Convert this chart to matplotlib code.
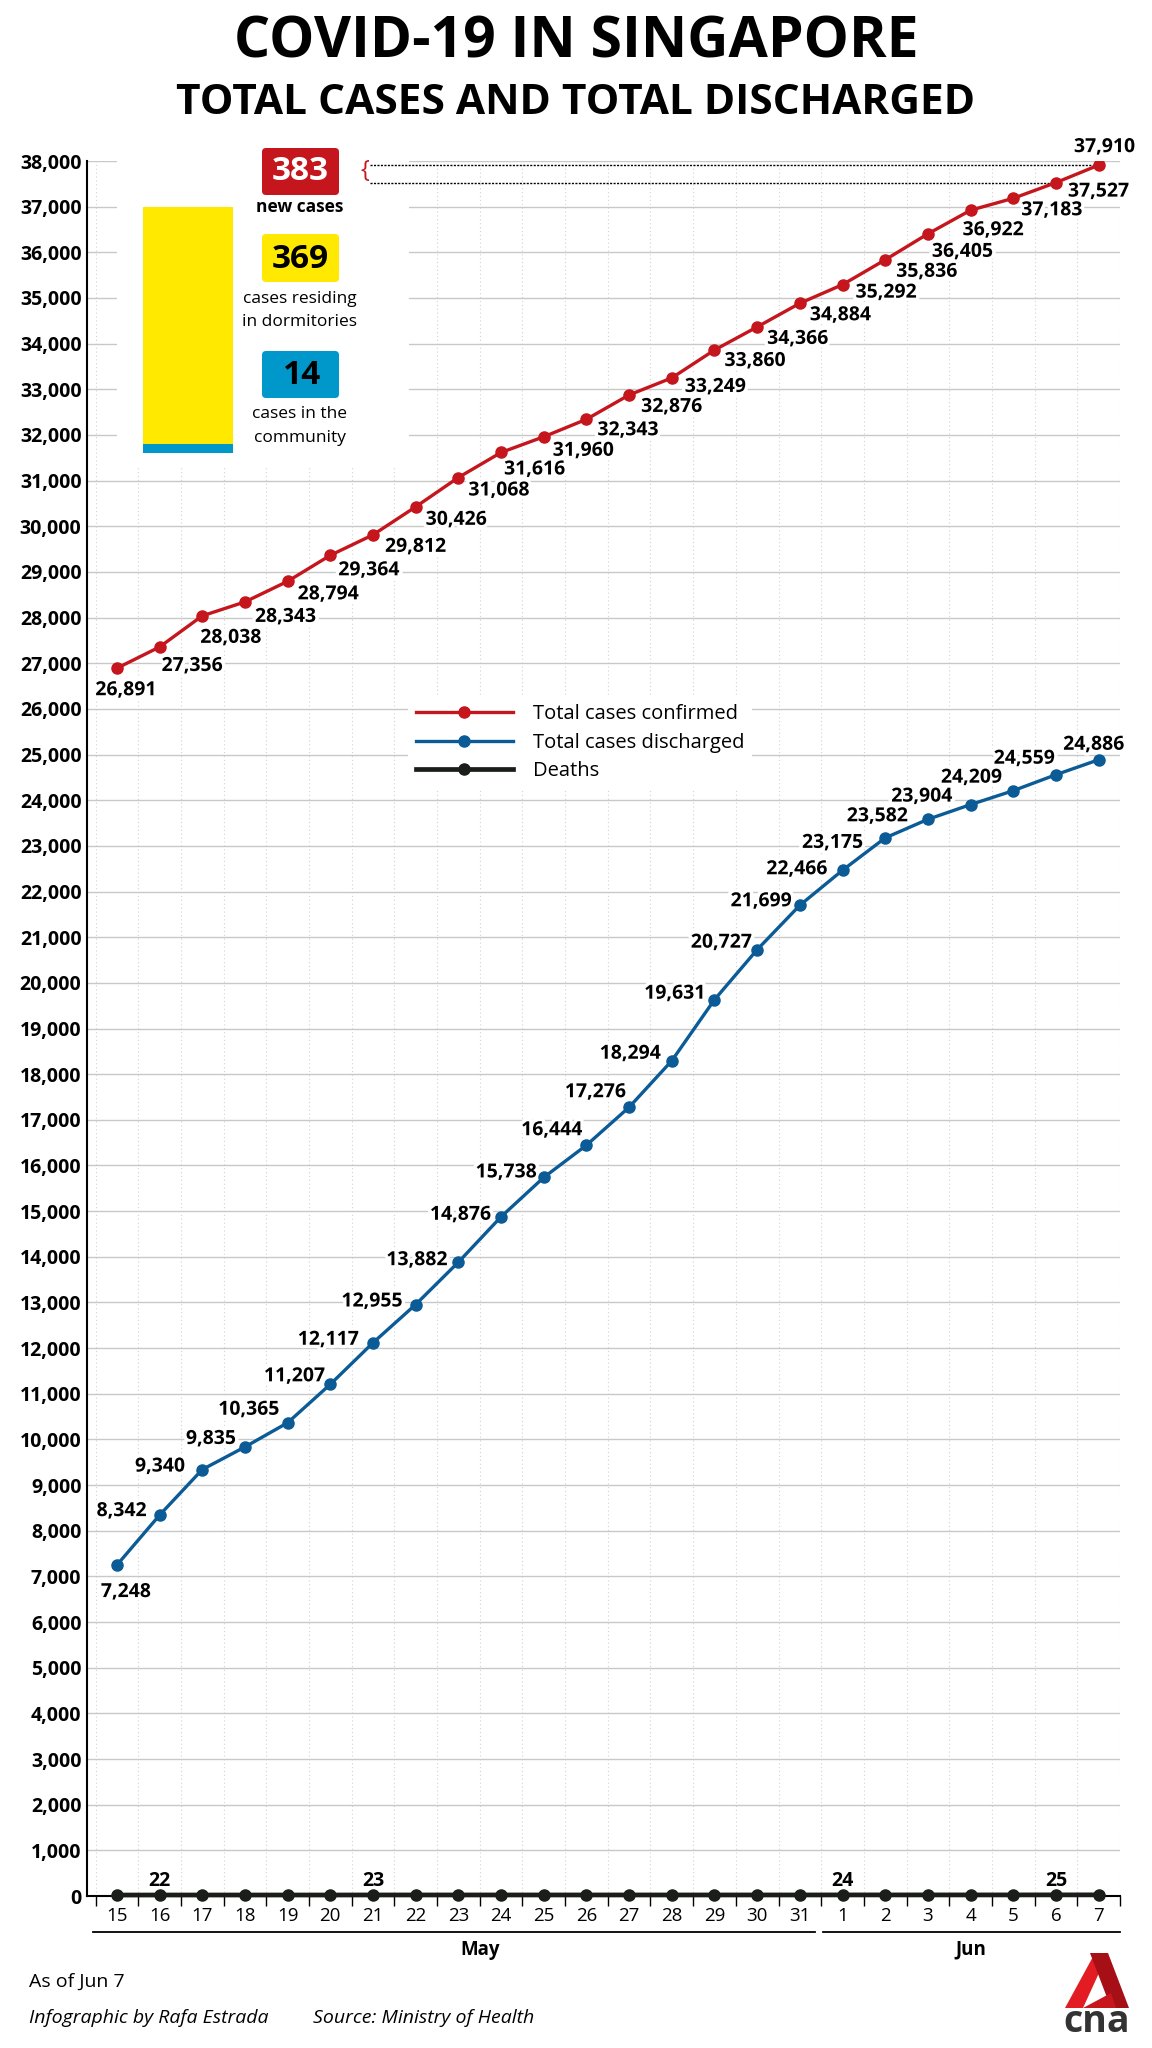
import matplotlib
matplotlib.use('Agg')
import matplotlib.pyplot as plt
import matplotlib.patheffects as pe
from matplotlib.patches import FancyBboxPatch, Rectangle, Polygon
from matplotlib.transforms import IdentityTransform, blended_transform_factory
from matplotlib.ticker import FuncFormatter, FixedLocator

plt.rcParams['font.family'] = ['Open Sans', 'DejaVu Sans']

# data
days = [15, 16, 17, 18, 19, 20, 21, 22, 23, 24, 25, 26, 27, 28, 29, 30, 31,
        1, 2, 3, 4, 5, 6, 7]
months = ['May'] * 17 + ['Jun'] * 7
total_cases = [26891, 27356, 28038, 28343, 28794, 29364, 29812, 30426, 31068,
               31616, 31960, 32343, 32876, 33249, 33860, 34366, 34884, 35292,
               35836, 36405, 36922, 37183, 37527, 37910]
discharged = [7248, 8342, 9340, 9835, 10365, 11207, 12117, 12955, 13882,
              14876, 15738, 16444, 17276, 18294, 19631, 20727, 21699, 22466,
              23175, 23582, 23904, 24209, 24559, 24886]
deaths = [21, 22, 22, 22, 22, 22, 23, 23, 23, 23, 23, 23, 23, 23, 23, 23, 23,
          24, 24, 24, 24, 24, 25, 25]
new_cases = 383
new_dorm = 369
new_community = 14

# label placement (pixels from the point): red = left edge / baseline,
# blue = right edge / baseline; first and last are centred
red_nudge = [(9, 27), (2, 24), (-2, 27), (10, 20), (10, 18), (8, 20), (12, 17),
             (10, 18), (10, 18), (3, 22), (9, 19), (11, 16), (12, 17),
             (13, 14), (10, 16), (10, 17), (10, 17), (13, 13), (11, 17),
             (4, 23), (-8, 25), (8, 17), (12, 14), (6, -13)]
blue_nudge = [(9, 32), (-13, 1), (-17, 2), (-9, -3), (-8, -8), (-5, -3),
              (-14, 2), (-13, 2), (-11, 3), (-10, 3), (-7, 0), (-4, -10),
              (-3, -10), (-11, -2), (-9, -1), (-5, -2), (-8, 1), (-15, 4),
              (-22, 10), (-20, 2), (-18, -3), (-11, -8), (-1, -11), (-5, -10)]

RED = '#c4161c'
BLUE = '#0b5b96'
BLACK = '#1b1d1a'
YELLOW = '#ffe900'
CYAN = '#0098cb'

W, H = 1152, 2048
PT = 72 / 100  # points per pixel


def fp(x, y):
    # pixel position (top-left origin) -> figure fraction
    return x / W, 1 - y / H


fig = plt.figure(figsize=(W / 100, H / 100), dpi=100)
ax = fig.add_axes([87 / W, 1 - 1896 / H, (1120 - 87) / W, (1896 - 161) / H])

x = list(range(len(days)))
ax.plot(x, total_cases, color=RED, lw=2.4, marker='o', ms=8, zorder=4,
        label='Total cases confirmed')
ax.plot(x, discharged, color=BLUE, lw=2.4, marker='o', ms=8, zorder=4,
        label='Total cases discharged')
ax.plot(x, deaths, color=BLACK, lw=3.4, marker='o', ms=8, zorder=5,
        clip_on=False, label='Deaths')

ax.set_xlim(-0.7, 23.5)
ax.set_ylim(0, 38000)

for s in ['top', 'right']:
    ax.spines[s].set_visible(False)
for s in ['left', 'bottom']:
    ax.spines[s].set_linewidth(1.5)
    ax.spines[s].set_color('black')

ax.set_yticks(range(0, 38001, 1000))
ax.yaxis.set_major_formatter(FuncFormatter(lambda v, p: f'{int(v):,}'))
ax.tick_params(axis='y', length=0, pad=4, labelsize=14)
for t in ax.get_yticklabels():
    t.set_fontweight('bold')

ax.xaxis.set_major_locator(FixedLocator([i - 0.5 for i in x] + [x[-1] + 0.5]))
ax.xaxis.set_minor_locator(FixedLocator(x))
ax.set_xticklabels([], minor=False)
ax.set_xticklabels([str(d) for d in days], minor=True)
ax.tick_params(axis='x', which='major', length=7, width=1, direction='out')
ax.tick_params(axis='x', which='minor', length=0, pad=8, labelsize=13.5)

ax.set_axisbelow(True)
ax.yaxis.grid(True, color='#c8c8c8', lw=1.0)
ax.xaxis.grid(True, which='major', color='#d4d4d4', lw=0.8, ls=(0, (1, 2.5)))

# white panel behind the inset
ax.add_patch(Rectangle((0.0, 31330), 6.85, 6800, fc='white', ec='none',
                       zorder=1.5, clip_on=False))

# value labels, with a white halo that hides the gridlines
halo = [pe.withStroke(linewidth=5, foreground='white')]
last = len(x) - 1
for series, nudge, side in [(total_cases, red_nudge, 'left'),
                            (discharged, blue_nudge, 'right')]:
    for i, v in enumerate(series):
        dx, dy = nudge[i]
        ha = 'center' if i in (0, last) else side
        ax.annotate(f'{v:,}', (i, v), xytext=(dx * PT, -dy * PT),
                    textcoords='offset points', ha=ha, va='baseline',
                    fontsize=14, fontweight='bold', path_effects=halo,
                    zorder=3)
for i, v in enumerate(deaths):
    if i > 0 and v != deaths[i - 1]:
        ax.annotate(str(v), (i, v), xytext=(0, 6.5), textcoords='offset points',
                    ha='center', va='baseline', fontsize=14, fontweight='bold')

# month underlines and labels
trans = blended_transform_factory(ax.transData, ax.transAxes)
ax.plot([-0.55, 16.35], [-0.0207, -0.0207], transform=trans, color='black',
        lw=1.3, clip_on=False)
ax.plot([16.55, 23.5], [-0.0207, -0.0207], transform=trans, color='black',
        lw=1.3, clip_on=False)
ax.text(8.5, -0.031, 'May', transform=trans, ha='center', va='center',
        fontsize=13.5, fontweight='bold')
ax.text(20, -0.031, 'Jun', transform=trans, ha='center', va='center',
        fontsize=13.5, fontweight='bold')

# bracket lines for latest change
ax.plot([5.93, last - 0.1], [total_cases[-1], total_cases[-1]], color='black',
        lw=1.0, ls=(0, (1.5, 1)), zorder=2, clip_on=False)
ax.plot([5.93, last - 1.1], [total_cases[-2], total_cases[-2]], color='black',
        lw=1.0, ls=(0, (1.5, 1)), zorder=2)
fig.text(*fp(365, 171), '{', color=RED, fontsize=17, ha='center',
         va='center')

leg = ax.legend(loc='upper left', bbox_to_anchor=fp(398, 686),
                bbox_transform=fig.transFigure, frameon=True, fancybox=False,
                facecolor='white', edgecolor='none', framealpha=1,
                fontsize=14.5, handlelength=4.8, handletextpad=1.0,
                labelspacing=0.42, borderpad=0.4, numpoints=1)
leg.set_zorder(6)

# inset stacked bar of new cases
iax = fig.add_axes([143 / W, 1 - 453 / H, 90 / W, (453 - 207) / H])
iax.bar(0, new_community, width=1, color=CYAN)
iax.bar(0, new_dorm, bottom=new_community, width=1, color=YELLOW)
iax.set_xlim(-0.5, 0.5)
iax.set_ylim(0, new_cases)
iax.axis('off')


def pbox(x0, y0, x1, y1, color):
    fig.add_artist(FancyBboxPatch((x0, H - y1), x1 - x0, y1 - y0,
                                  boxstyle='round,pad=0,rounding_size=4',
                                  fc=color, ec='none',
                                  transform=IdentityTransform()))


pbox(262, 148, 339, 195, RED)
pbox(262, 234, 339, 282, YELLOW)
pbox(262, 351, 339, 398, CYAN)
fig.text(*fp(300, 172), str(new_cases), color='white', fontsize=24,
         fontweight='bold', ha='center', va='center')
fig.text(*fp(300, 259), str(new_dorm), color='black', fontsize=24,
         fontweight='bold', ha='center', va='center')
fig.text(*fp(302, 375), str(new_community), color='black', fontsize=24,
         fontweight='bold', ha='center', va='center')
fig.text(*fp(300, 207), 'new cases', fontsize=12.5, fontweight='bold',
         ha='center', va='center')
fig.text(*fp(300, 299), 'cases residing', fontsize=12.5, ha='center',
         va='center')
fig.text(*fp(300, 322), 'in dormitories', fontsize=12.5, ha='center',
         va='center')
fig.text(*fp(300, 414), 'cases in the', fontsize=12.5, ha='center',
         va='center')
fig.text(*fp(300, 438), 'community', fontsize=12.5, ha='center',
         va='center')

# titles
fig.text(*fp(576, 42), 'COVID-19 IN SINGAPORE', fontsize=41,
         fontweight='bold', ha='center', va='center')
fig.text(*fp(576, 104), 'TOTAL CASES AND TOTAL DISCHARGED', fontsize=30.5,
         fontweight='bold', ha='center', va='center')

# footer
fig.text(*fp(29, 1982), 'As of Jun 7', fontsize=14, ha='left', va='center')
fig.text(*fp(29, 2018), 'Infographic by Rafa Estrada', fontsize=14,
         style='italic', ha='left', va='center')
fig.text(*fp(313, 2018), 'Source: Ministry of Health', fontsize=14,
         style='italic', ha='left', va='center')

# cna logo
for pts, col in [([(1065, 2008), (1083, 2008), (1104, 1962), (1095, 1953)], '#e31b23'),
                 ([(1090, 1953), (1108, 1953), (1129, 2008), (1111, 2008)], '#a50f15'),
                 ([(1083, 2008), (1111, 1993), (1116, 2008)], '#c8161e')]:
    fig.add_artist(Polygon([(px, H - py) for px, py in pts], closed=True,
                           fc=col, ec='none', transform=IdentityTransform()))
fig.text(*fp(1097, 2022), 'cna', fontsize=27, fontweight='bold',
         color='#333333', ha='center', va='center')

fig.savefig('out.png', dpi=100)
